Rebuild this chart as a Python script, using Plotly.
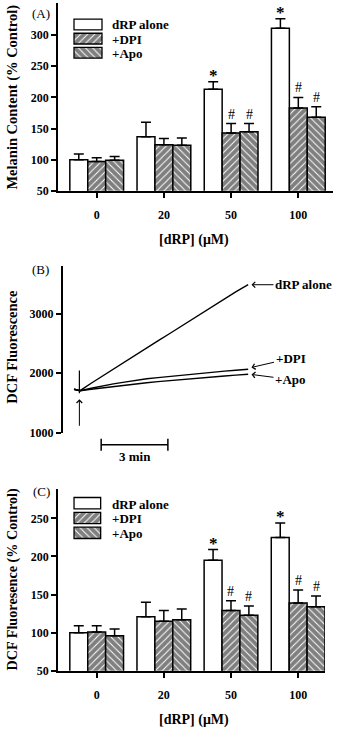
import plotly.graph_objects as go

W, H = 338, 733
FONT = "Liberation Serif"

# ---------------- data ----------------
cats = ["0", "20", "50", "100"]
series_names = ["dRP alone", "+DPI", "+Apo"]

# Panel A: melanin content (% control)
a_drp = [100, 137, 213, 311]
a_drp_err = [9, 23, 12, 15]
a_dpi = [97, 124, 143, 183]
a_dpi_err = [6, 10, 15, 17]
a_apo = [99, 123, 145, 168]
a_apo_err = [6, 12, 13, 17]
a_sig_drp = ["", "", "*", "*"]
a_sig_dpi = ["", "", "#", "#"]
a_sig_apo = ["", "", "#", "#"]

# Panel C: DCF fluorescence (% control)
c_drp = [100, 121, 195, 225]
c_drp_err = [9, 19, 14, 19]
c_dpi = [101, 115, 129, 139]
c_dpi_err = [8, 14, 13, 17]
c_apo = [96, 117, 123, 134]
c_apo_err = [9, 14, 12, 14]
c_sig_drp = ["", "", "*", "*"]
c_sig_dpi = ["", "", "#", "#"]
c_sig_apo = ["", "", "#", "#"]

# Panel B: DCF fluorescence time course (minutes)
b_time = [-0.27, 0, 0.5, 1, 1.5, 2, 2.5, 3, 3.5, 4, 4.5, 5, 5.5, 6, 6.5, 7, 7.56]
b_drp = [1730, 1705, 1830, 1950, 2075, 2190, 2310, 2425, 2545, 2660, 2780, 2900, 3010, 3130, 3255, 3370, 3490]
b_dpi = [1730, 1705, 1745, 1785, 1820, 1850, 1880, 1905, 1925, 1945, 1965, 1985, 2000, 2020, 2035, 2050, 2067]
b_apo = [1730, 1705, 1728, 1752, 1775, 1797, 1818, 1838, 1857, 1875, 1892, 1908, 1923, 1938, 1953, 1967, 1983]

a_yticks = [50, 100, 150, 200, 250, 300]
b_yticks = [1000, 2000, 3000]
c_yticks = [50, 100, 150, 200, 250]

xpos = list(range(len(cats)))
shapes_pat = ["", "/", "\\"]


def fx(px):
    return px / W


def fy(py):
    return 1 - py / H


BOLD = dict(family=FONT, size=12, color="black", weight="bold")
PAT = dict(fgcolor="black", bgcolor="white", size=5, solidity=0.8)

fig = go.Figure()


def add_bars(vals_list, errs_list, xa, ya):
    for name, vals, errs, shp in zip(series_names, vals_list, errs_list, shapes_pat):
        fig.add_trace(go.Bar(
            x=xpos, y=vals, name=name, xaxis=xa, yaxis=ya, offsetgroup=name,
            marker=dict(color="white",
                        line=dict(color="black", width=1.5),
                        pattern=dict(shape=shp, **PAT)),
            error_y=dict(type="data", array=errs, arrayminus=[0] * len(errs),
                         symmetric=False, color="black", thickness=1.5, width=5),
            showlegend=False,
        ))


add_bars([a_drp, a_dpi, a_apo], [a_drp_err, a_dpi_err, a_apo_err], "x", "y")
add_bars([c_drp, c_dpi, c_apo], [c_drp_err, c_dpi_err, c_apo_err], "x3", "y3")

for vals in [b_drp, b_dpi, b_apo]:
    fig.add_trace(go.Scatter(x=b_time, y=vals, mode="lines", xaxis="x2", yaxis="y2",
                             line=dict(color="black", width=1.4), showlegend=False))

# legend boxes (custom legends drawn as bars on small helper axes)
for xa, ya in [("x4", "y4"), ("x5", "y5")]:
    fig.add_trace(go.Bar(
        orientation="h", y=[0, 1, 2], x=[1, 1, 1], width=0.76, xaxis=xa, yaxis=ya,
        offsetgroup="leg",
        marker=dict(color="white", line=dict(color="black", width=1.3),
                    pattern=dict(shape=shapes_pat, **PAT)),
        showlegend=False, hoverinfo="skip"))

annotations = []

# significance markers
offsets = [-0.8 / 3, 0, 0.8 / 3]
for (vals_l, errs_l, sig_l, xr, yr) in [
    ([a_drp, a_dpi, a_apo], [a_drp_err, a_dpi_err, a_apo_err], [a_sig_drp, a_sig_dpi, a_sig_apo], "x", "y"),
    ([c_drp, c_dpi, c_apo], [c_drp_err, c_dpi_err, c_apo_err], [c_sig_drp, c_sig_dpi, c_sig_apo], "x3", "y3"),
]:
    for off, vals, errs, sigs in zip(offsets, vals_l, errs_l, sig_l):
        for i, s in enumerate(sigs):
            if s:
                star = s == "*"
                annotations.append(dict(
                    x=xpos[i] + off, y=vals[i] + errs[i], xref=xr, yref=yr, text=s,
                    showarrow=False, yanchor="bottom", yshift=-5 if star else 0,
                    font=dict(family=FONT, size=17 if star else 14, color="black",
                              weight="bold" if star else "normal")))

# legend labels
for (x0, ys) in [(110, [25, 40, 54.5]), (110, [509, 524, 539])]:
    for name, yy in zip(series_names, ys):
        annotations.append(dict(x=fx(x0), y=fy(yy), xref="paper", yref="paper", text=name,
                                showarrow=False, xanchor="left", yanchor="middle",
                                font=dict(family=FONT, size=13, color="black", weight="bold")))

# panel labels
for lab, (px, py) in [("(A)", (41, 14)), ("(B)", (40, 272)), ("(C)", (41, 496))]:
    annotations.append(dict(x=fx(px), y=fy(py), xref="paper", yref="paper", text=lab,
                            showarrow=False, xanchor="center", yanchor="middle",
                            font=dict(family=FONT, size=13, color="black")))

# axis titles
for txt, (px, py), ang, size in [
    ("Melanin Content (% Control)", (12.5, 98), -90, 14.5),
    ("DCF Fluorescence", (12, 350), -90, 14.5),
    ("DCF Fluoresence (% Control)", (12, 585), -90, 14.2),
    ("[dRP] (μM)", (194, 242), 0, 14),
    ("[dRP] (μM)", (194, 727), 0, 14),
]:
    annotations.append(dict(x=fx(px), y=fy(py), xref="paper", yref="paper", text=txt,
                            textangle=ang, showarrow=False, xanchor="center", yanchor="middle",
                            font=dict(family=FONT, size=size, color="black", weight="bold")))

# panel B line labels with arrows
b_end_t = b_time[-1]
for name, yv, ax, ay in [("dRP alone", b_drp[-1], 52, 0), ("+DPI", b_dpi[-1] + 30, 39, -9),
                         ("+Apo", b_apo[-1] - 5, 39, 5)]:
    annotations.append(dict(x=b_end_t + 0.15, y=yv, xref="x2", yref="y2", text=name,
                            showarrow=True, ax=ax, ay=ay, arrowhead=4, arrowsize=1.1,
                            arrowwidth=1, arrowcolor="black",
                            font=dict(family=FONT, size=13, color="black", weight="bold")))

# addition arrow under start
annotations.append(dict(x=-0.03, y=1560, xref="x2", yref="y2", text="", showarrow=True,
                        ax=0, ay=28, arrowhead=4, arrowsize=1.1, arrowwidth=1, arrowcolor="black"))

# scale bar label
scale_start, scale_len = 0.95, 3
annotations.append(dict(x=scale_start + scale_len / 2, y=fy(461), xref="x2", yref="paper",
                        text="3 min", showarrow=False, yanchor="middle",
                        font=dict(family=FONT, size=13, color="black", weight="bold")))

shapes = [
    dict(type="line", xref="x2", yref="y2", x0=-0.03, x1=-0.03, y0=1662, y1=2045,
         line=dict(color="black", width=1.2)),
    dict(type="line", xref="x2", yref="paper", x0=scale_start, x1=scale_start + scale_len,
         y0=fy(449), y1=fy(449), line=dict(color="black", width=1.5)),
    dict(type="line", xref="x2", yref="paper", x0=scale_start, x1=scale_start,
         y0=fy(443), y1=fy(455), line=dict(color="black", width=1.5)),
    dict(type="line", xref="x2", yref="paper", x0=scale_start + scale_len, x1=scale_start + scale_len,
         y0=fy(443), y1=fy(455), line=dict(color="black", width=1.5)),
]

xcommon = dict(tickvals=xpos, ticktext=cats, ticks="outside", ticklen=5, tickwidth=1.5,
               tickcolor="black", showline=True, linecolor="black", linewidth=1.5,
               showgrid=False, zeroline=False, tickfont=BOLD, ticklabelstandoff=7)
ycommon = dict(ticks="outside", ticklen=5, tickwidth=1.5, tickcolor="black", showline=True,
               linecolor="black", linewidth=1.5, showgrid=False, zeroline=False, tickfont=BOLD)
hidden = dict(visible=False, showgrid=False, zeroline=False)

fig.update_layout(
    width=W, height=H, margin=dict(l=0, r=0, t=0, b=0),
    paper_bgcolor="white", plot_bgcolor="white", showlegend=False,
    barmode="group", bargap=0.2, bargroupgap=0,
    xaxis=dict(domain=[fx(58), fx(333)], range=[-0.576, 3.516], anchor="y", **xcommon),
    yaxis=dict(domain=[fy(192.7), fy(3.3)], range=[50, 351], tickvals=a_yticks, anchor="x", **ycommon),
    xaxis2=dict(domain=[fx(62.7), 1], range=[-0.78, 11.6], anchor="y2", **hidden),
    yaxis2=dict(domain=[fy(436.7), fy(268.3)], range=[1000, 3810], tickvals=b_yticks, anchor="x2", **ycommon),
    xaxis3=dict(domain=[fx(58), fx(325)], range=[-0.576, 3.40], anchor="y3", **xcommon),
    yaxis3=dict(domain=[fy(677.3), fy(493.3)], range=[50, 289], tickvals=c_yticks, anchor="x3", **ycommon),
    xaxis4=dict(domain=[fx(72.6), fx(103.4)], range=[-0.05, 1.05], anchor="y4", **hidden),
    yaxis4=dict(domain=[fy(60.4), fy(17.6)], range=[2.5, -0.5], anchor="x4", **hidden),
    xaxis5=dict(domain=[fx(72.7), fx(102)], range=[-0.05, 1.05], anchor="y5", **hidden),
    yaxis5=dict(domain=[fy(545.5), fy(500.5)], range=[2.5, -0.5], anchor="x5", **hidden),
    annotations=annotations, shapes=shapes,
)

fig.write_html("out.html")
